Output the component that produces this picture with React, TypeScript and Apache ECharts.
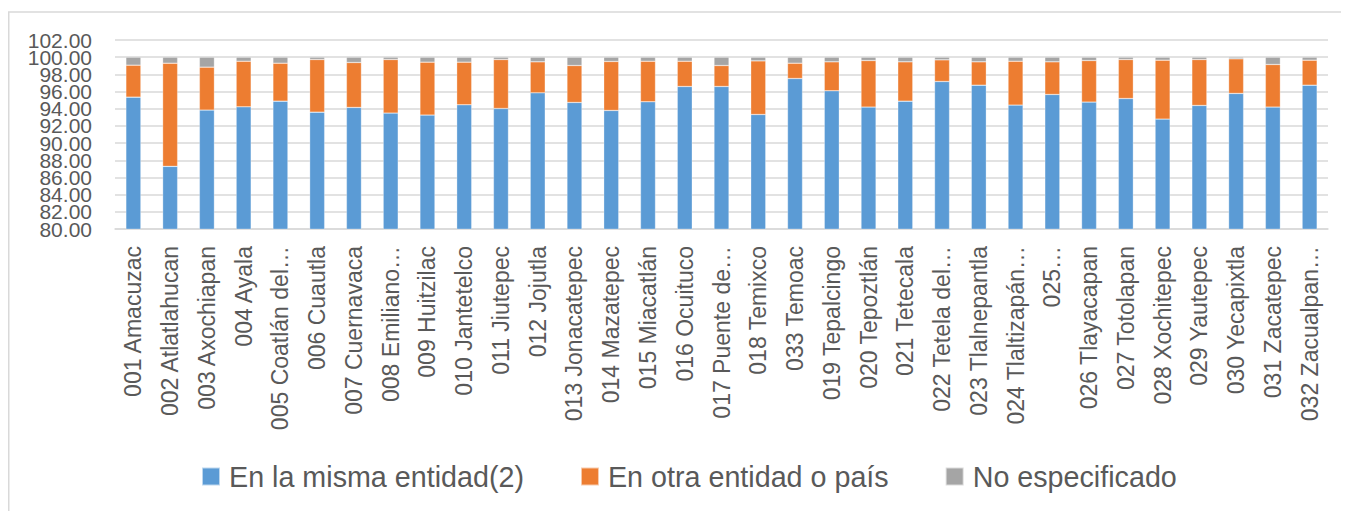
import React, { useEffect, useRef } from "react";
import * as echarts from "echarts";

const categories = [
  "001 Amacuzac", "002 Atlatlahucan", "003 Axochiapan", "004 Ayala", "005 Coatlán del…",
  "006 Cuautla", "007 Cuernavaca", "008 Emiliano…", "009 Huitzilac", "010 Jantetelco",
  "011 Jiutepec", "012 Jojutla", "013 Jonacatepec", "014 Mazatepec", "015 Miacatlán",
  "016 Ocuituco", "017 Puente de…", "018 Temixco", "033 Temoac", "019 Tepalcingo",
  "020 Tepoztlán", "021 Tetecala", "022 Tetela del…", "023 Tlalnepantla", "024 Tlaltizapán…",
  "025…", "026 Tlayacapan", "027 Totolapan", "028 Xochitepec", "029 Yautepec",
  "030 Yecapixtla", "031 Zacatepec", "032 Zacualpan…",
];

const mismaEntidad = [
  95.35, 87.29, 93.84, 94.22, 94.88, 93.6, 94.15, 93.49, 93.26, 94.46,
  94.03, 95.85, 94.73, 93.8, 94.81, 96.59, 96.59, 93.33, 97.52, 96.09,
  94.19, 94.88, 97.17, 96.74, 94.42, 95.66, 94.77, 95.19, 92.79, 94.38,
  95.78, 94.19, 96.74,
];

const otraEntidad = [
  3.72, 12.01, 5.0, 5.31, 4.42, 6.13, 5.23, 6.24, 6.16, 4.96,
  5.7, 3.61, 4.3, 5.7, 4.72, 2.94, 2.44, 6.24, 1.78, 3.37,
  5.42, 4.58, 2.52, 2.72, 5.11, 3.8, 4.84, 4.54, 6.86, 5.35,
  4.03, 4.96, 2.91,
];

const noEspecificado = [
  0.93, 0.7, 1.16, 0.47, 0.7, 0.27, 0.62, 0.27, 0.58, 0.58,
  0.27, 0.54, 0.97, 0.5, 0.47, 0.47, 0.97, 0.43, 0.7, 0.54,
  0.39, 0.54, 0.31, 0.54, 0.47, 0.54, 0.39, 0.27, 0.35, 0.27,
  0.19, 0.85, 0.35,
];

const seriesNames = ["En la misma entidad(2)", "En otra entidad o país", "No especificado"];
const colors = ["#5B9BD5", "#ED7D31", "#A5A5A5"];

const Y_MIN = 80;
const Y_MAX = 102;
const Y_STEP = 2;

const FONT = "Liberation Sans, Arial, sans-serif";

export default function App() {
  const ref = useRef<HTMLDivElement>(null);

  useEffect(() => {
    if (!ref.current) return;
    const chart = echarts.init(ref.current, undefined, { renderer: "svg" });
    const values = [mismaEntidad, otraEntidad, noEspecificado];
    const labelBase = {
      fontSize: 21,
      color: "#595959",
      margin: 23,
      fontFamily: FONT,
    };
    chart.setOption({
      animation: false,
      textStyle: { fontFamily: FONT },
      graphic: [
        {
          type: "line",
          shape: { x1: 0, y1: 4, x2: 2000, y2: 4 },
          style: { stroke: "#d9d9d9", lineWidth: 1.5 },
        },
        {
          type: "line",
          shape: { x1: 0.75, y1: 4, x2: 0.75, y2: 2000 },
          style: { stroke: "#d9d9d9", lineWidth: 1.5 },
        },
      ],
      grid: { left: 107, right: 21, top: 32, bottom: 282, containLabel: false },
      legend: {
        top: 449,
        left: 188,
        itemWidth: 18,
        itemHeight: 18,
        itemGap: 56,
        icon: "rect",
        textStyle: {
          fontSize: 28.7,
          color: "#595959",
          fontFamily: FONT,
          padding: [0, 0, 0, 4],
        },
        data: seriesNames,
      },
      xAxis: {
        type: "category",
        data: categories,
        axisLine: { lineStyle: { color: "#d9d9d9", width: 1.5 } },
        axisTick: { show: false },
        axisLabel: {
          rotate: 90,
          interval: 0,
          margin: 17,
          fontSize: 23,
          color: "#595959",
          fontFamily: FONT,
        },
      },
      yAxis: [
        {
          type: "value",
          min: Y_MIN,
          max: Y_MAX,
          interval: Y_STEP,
          position: "left",
          axisLine: { show: false },
          axisTick: { show: false },
          splitLine: { lineStyle: { color: "#d9d9d9", width: 1.5 } },
          axisLabel: {
            ...labelBase,
            showMinLabel: false,
            showMaxLabel: false,
            formatter: (v: number) => v.toFixed(2),
          },
        },
        {
          type: "value",
          min: Y_MIN,
          max: Y_MAX,
          interval: Y_STEP,
          position: "left",
          offset: 0,
          axisLine: { show: false },
          axisTick: { show: false },
          splitLine: { show: false },
          axisLabel: {
            ...labelBase,
            showMinLabel: true,
            showMaxLabel: true,
            formatter: (v: number) => (v === Y_MIN || v === Y_MAX ? v.toFixed(2) : ""),
          },
        },
      ],
      series: seriesNames.map((name, i) => ({
        name,
        type: "bar",
        stack: "total",
        yAxisIndex: 0,
        barWidth: 15,
        data: values[i],
        itemStyle: { color: colors[i], borderColor: "rgba(255,255,255,0.6)", borderWidth: 0.5 },
      })),
    });
    return () => chart.dispose();
  }, []);

  return <div ref={ref} style={{ width: 1341, height: 503 }} />;
}
